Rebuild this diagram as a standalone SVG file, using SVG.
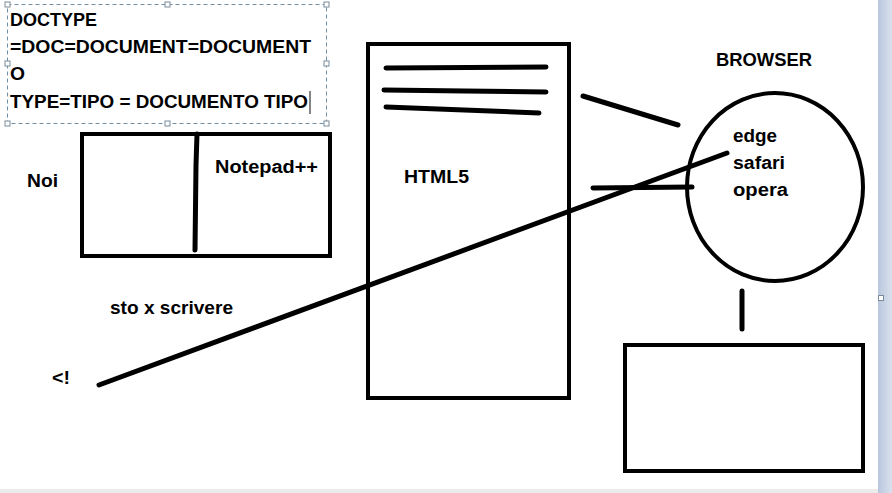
<svg xmlns="http://www.w3.org/2000/svg" width="892" height="493" viewBox="0 0 892 493">
<style>
.t{font-family:"Liberation Sans",Arial,sans-serif;font-weight:bold;font-size:18px;fill:#000}
.s{fill:none;stroke:#000;stroke-width:4}
.l{fill:none;stroke:#000;stroke-width:5;stroke-linecap:round}
.h{fill:#fff;stroke:#7a8a9a;stroke-width:1}
</style>
<defs>
<linearGradient id="bar" x1="0" y1="0" x2="1" y2="0">
<stop offset="0" stop-color="#b9c6dc"/><stop offset="1" stop-color="#d9e1ee"/>
</linearGradient>
</defs>
<rect x="0" y="0" width="892" height="493" fill="#fff"/>
<rect x="878" y="0" width="14" height="493" fill="url(#bar)"/>
<rect x="0" y="489" width="878" height="4" fill="#ebebeb"/>
<rect x="878.5" y="295.5" width="5" height="5" class="h"/>

<g id="doctype-textbox">
<rect x="7.5" y="4.5" width="319" height="119" fill="none" stroke="#6f8fa8" stroke-width="1" stroke-dasharray="4,3"/>
<rect x="5" y="2" width="5" height="5" class="h"/><rect x="165" y="2" width="5" height="5" class="h"/><rect x="324" y="2" width="5" height="5" class="h"/>
<rect x="5" y="61" width="5" height="5" class="h"/><rect x="324" y="61" width="5" height="5" class="h"/>
<rect x="5" y="121" width="5" height="5" class="h"/><rect x="165" y="121" width="5" height="5" class="h"/><rect x="324" y="121" width="5" height="5" class="h"/>
<text class="t" x="10" y="26" textLength="87" lengthAdjust="spacingAndGlyphs">DOCTYPE</text>
<text class="t" x="10" y="53" textLength="301" lengthAdjust="spacingAndGlyphs">=DOC=DOCUMENT=DOCUMENT</text>
<text class="t" x="10" y="80" textLength="15" lengthAdjust="spacingAndGlyphs">O</text>
<text class="t" x="10" y="108" textLength="298" lengthAdjust="spacingAndGlyphs">TYPE=TIPO = DOCUMENTO TIPO</text>
<line x1="310" y1="91" x2="310" y2="114" stroke="#333" stroke-width="1.2"/>
</g>

<g id="noi">
<text class="t" x="27" y="187" textLength="31" lengthAdjust="spacingAndGlyphs">Noi</text>
</g>

<g id="notepad">
<rect x="82" y="134" width="248" height="122" class="s"/>
<polyline points="197,134 196,165 195,250" class="l" stroke-linecap="butt"/>
<text class="t" x="215" y="173" textLength="103" lengthAdjust="spacingAndGlyphs">Notepad++</text>
</g>

<g id="sto-x-scrivere">
<text class="t" x="110" y="314" textLength="123" lengthAdjust="spacingAndGlyphs">sto x scrivere</text>
</g>

<g id="lt-excl">
<text class="t" x="52" y="384" textLength="18" lengthAdjust="spacingAndGlyphs">&lt;!</text>
</g>

<g id="html5">
<rect x="368" y="44" width="201" height="354" class="s"/>
<line x1="386" y1="68" x2="546" y2="67" class="l"/>
<polyline points="384,90 465,91 546,92" class="l"/>
<line x1="386" y1="107" x2="539" y2="113" class="l"/>
<text class="t" x="404" y="183" textLength="65" lengthAdjust="spacingAndGlyphs">HTML5</text>
</g>

<g id="browser">
<text class="t" x="716" y="66" textLength="96" lengthAdjust="spacingAndGlyphs">BROWSER</text>
<ellipse cx="775" cy="187" rx="88" ry="94" stroke="#000" stroke-width="4" fill="none"/>
<text class="t" x="733" y="142" textLength="44" lengthAdjust="spacingAndGlyphs">edge</text>
<text class="t" x="733" y="169" textLength="52" lengthAdjust="spacingAndGlyphs">safari</text>
<text class="t" x="733" y="196" textLength="55" lengthAdjust="spacingAndGlyphs">opera</text>
</g>

<g id="box">
<rect x="625" y="345" width="238" height="126" class="s"/>
</g>

<g id="connectors">
<line x1="99" y1="385" x2="727" y2="153" class="l"/>
<line x1="583" y1="96" x2="678" y2="125" class="l"/>
<line x1="593" y1="188" x2="692" y2="187" class="l"/>
<line x1="742" y1="291" x2="742" y2="329" class="l"/>
</g>
</svg>
